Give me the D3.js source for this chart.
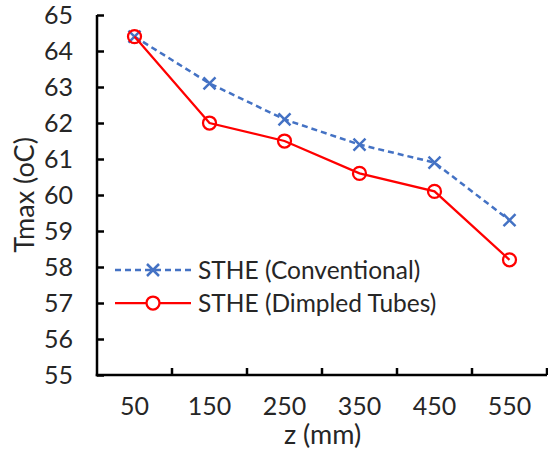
<!DOCTYPE html>
<html>
<head>
<meta charset="utf-8">
<script src="https://cdn.jsdelivr.net/npm/d3@7"></script>
<style>
  body { margin: 0; background: #fff; }
  text { font-family: Lato, "Liberation Sans", sans-serif; fill: #262626; }
</style>
</head>
<body>
<div id="chart"></div>
<script>
// chart data
var categories = ["50", "150", "250", "350", "450", "550"];
var conventional = [64.4, 63.1, 62.1, 61.4, 60.9, 59.3];
var dimpled = [64.4, 62.0, 61.5, 60.6, 60.1, 58.2];
var yTicks = [55, 56, 57, 58, 59, 60, 61, 62, 63, 64, 65];
var seriesNames = ["STHE (Conventional)", "STHE (Dimpled Tubes)"];

var W = 548, H = 454;
var margin = { top: 15, right: 1, bottom: 79, left: 97 };
var width = W - margin.left - margin.right;
var height = H - margin.top - margin.bottom;

var svg = d3.select("#chart")
    .append("svg")
    .attr("width", W)
    .attr("height", H)
    .append("g")
    .attr("transform", "translate(" + margin.left + "," + margin.top + ")");

var x = d3.scaleBand()
    .domain(categories)
    .range([0, width]);

var y = d3.scaleLinear()
    .domain([55, 65])
    .range([height, 0]);

// Y axis
var yAxis = d3.axisLeft(y)
    .tickValues(yTicks)
    .tickSize(0)
    .tickPadding(24)
    .tickFormat(d3.format("d"));

var gy = svg.append("g").call(yAxis);
gy.select(".domain").remove();
gy.selectAll(".tick text").style("font-size", "25px");
gy.selectAll(".tick").append("line")
    .attr("x1", 0).attr("x2", 7)
    .attr("stroke", "#000").attr("stroke-width", 2.5);

// X axis
var xAxis = d3.axisBottom(x)
    .tickSize(0)
    .tickPadding(22);

var gx = svg.append("g")
    .attr("transform", "translate(0," + height + ")")
    .call(xAxis);
gx.select(".domain").remove();
gx.selectAll(".tick text").style("font-size", "25px");

// category boundary ticks
svg.selectAll(".xtick")
    .data(categories)
    .enter()
    .append("line")
    .attr("x1", d => x(d) + x.bandwidth())
    .attr("x2", d => x(d) + x.bandwidth())
    .attr("y1", height)
    .attr("y2", height - 7)
    .attr("stroke", "#000").attr("stroke-width", 2.5);

// axis lines
svg.append("line")
    .attr("x1", 0).attr("x2", 0)
    .attr("y1", 0).attr("y2", height + 1.25)
    .attr("stroke", "#000").attr("stroke-width", 2.5);
svg.append("line")
    .attr("x1", -1.25).attr("x2", width)
    .attr("y1", height).attr("y2", height)
    .attr("stroke", "#000").attr("stroke-width", 2.5);

var cx = d => x(d) + x.bandwidth() / 2;

var line = d3.line()
    .x((d, i) => cx(categories[i]))
    .y(d => y(d));

function drawX(g, px, py) {
  var s = 6;
  g.append("path")
    .attr("d", "M" + (px - s) + "," + (py - s) + "L" + (px + s) + "," + (py + s) +
               "M" + (px - s) + "," + (py + s) + "L" + (px + s) + "," + (py - s))
    .attr("stroke", "#4472C4").attr("stroke-width", 2.5).attr("fill", "none");
}

// conventional series
svg.append("path")
    .attr("d", line(conventional))
    .attr("fill", "none")
    .attr("stroke", "#4472C4")
    .attr("stroke-width", 2.5)
    .attr("stroke-dasharray", "6,4");

conventional.forEach((v, i) => drawX(svg, cx(categories[i]), y(v)));

// dimpled series
svg.append("path")
    .attr("d", line(dimpled))
    .attr("fill", "none")
    .attr("stroke", "#FF0000")
    .attr("stroke-width", 2.25);

svg.selectAll(".pt")
    .data(dimpled)
    .enter()
    .append("circle")
    .attr("cx", (d, i) => cx(categories[i]))
    .attr("cy", d => y(d))
    .attr("r", 6.5)
    .attr("fill", "none")
    .attr("stroke", "#FF0000")
    .attr("stroke-width", 2.25);

// legend
var leg = svg.append("g").attr("transform", "translate(" + (115 - margin.left) + ",0)");
var ly = [270 - margin.top, 303 - margin.top];

leg.append("line")
    .attr("x1", 0).attr("x2", 76)
    .attr("y1", ly[0]).attr("y2", ly[0])
    .attr("stroke", "#4472C4").attr("stroke-width", 2.5)
    .attr("stroke-dasharray", "6,4");
drawX(leg, 38, ly[0]);

leg.append("line")
    .attr("x1", 0).attr("x2", 76)
    .attr("y1", ly[1]).attr("y2", ly[1])
    .attr("stroke", "#FF0000").attr("stroke-width", 2.25);
leg.append("circle")
    .attr("cx", 38).attr("cy", ly[1]).attr("r", 6.5)
    .attr("fill", "#fff")
    .attr("stroke", "#FF0000").attr("stroke-width", 2.25);

leg.selectAll(".lt")
    .data(seriesNames)
    .enter()
    .append("text")
    .attr("x", 83)
    .attr("y", (d, i) => ly[i])
    .attr("dy", "0.36em")
    .style("font-size", "24.5px")
    .text(d => d);

// axis titles
svg.append("text")
    .attr("text-anchor", "middle")
    .attr("transform", "translate(" + (225.5) + "," + (height + 69) + ")")
    .style("font-size", "27px")
    .text("z (mm)");

svg.append("text")
    .attr("text-anchor", "middle")
    .attr("transform", "translate(" + (-63) + "," + (height / 2) + ") rotate(-90)")
    .style("font-size", "27px")
    .text("Tmax (oC)");
</script>
</body>
</html>
